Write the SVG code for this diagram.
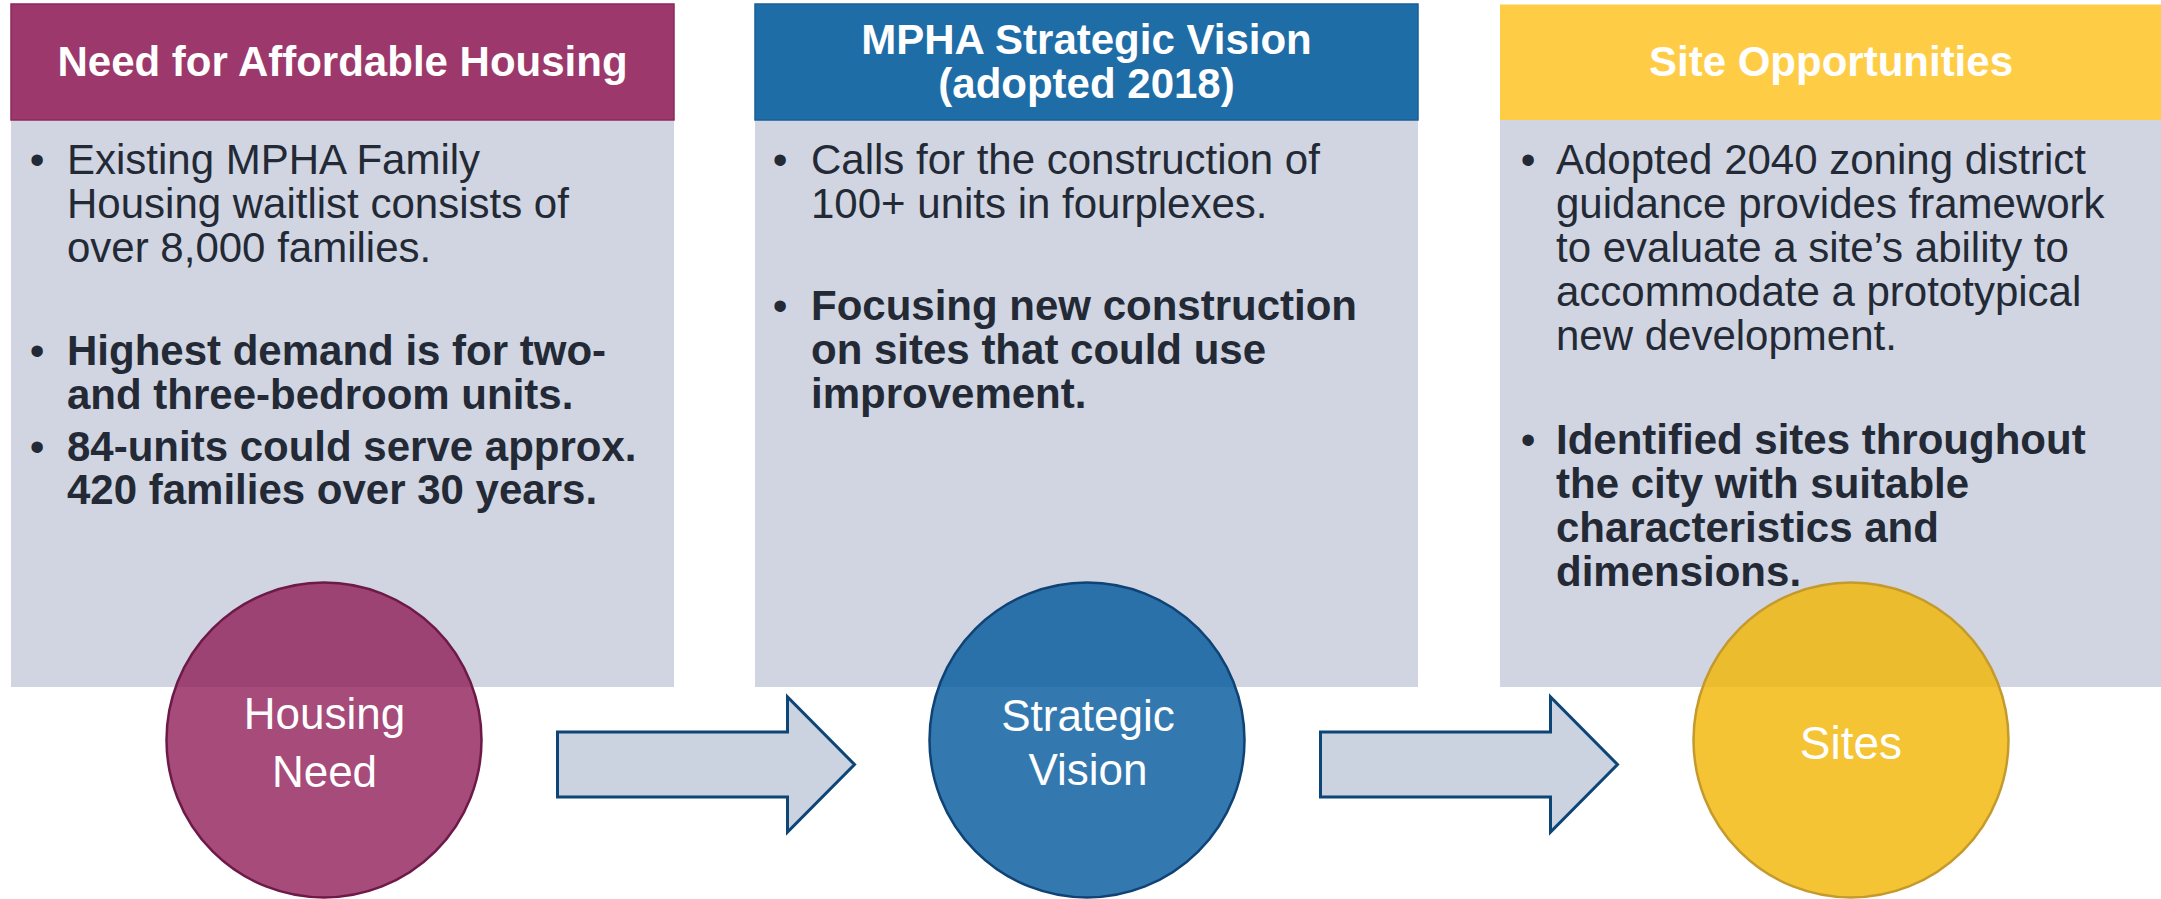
<svg xmlns="http://www.w3.org/2000/svg" width="2161" height="899" viewBox="0 0 2161 899">
  <style>
    .body { fill: #d0d5e1; }
    .head-text { font-family: "Liberation Sans", Arial, sans-serif; font-size: 42px; font-weight: bold; fill: #ffffff; text-anchor: middle; }
    .txt { font-family: "Liberation Sans", Arial, sans-serif; font-size: 42px; fill: #232a36; }
    .b { font-weight: bold; }
    .bullet { font-family: "Liberation Sans", Arial, sans-serif; font-size: 42px; fill: #232a36; text-anchor: middle; }
    .circle-text { font-family: "Liberation Sans", Arial, sans-serif; font-size: 44px; fill: #ffffff; text-anchor: middle; }
    .arrow { fill: #cbd2e0; stroke: #0e4577; stroke-width: 3; stroke-linejoin: miter; }
  </style>
  <defs>
    <polygon id="block-arrow" points="0,0 230,0 230,-35 297,32.5 230,100 230,65 0,65"/>
  </defs>

  <rect width="2161" height="899" fill="#ffffff"/>

  <!-- Column 1: need for affordable housing -->
  <g id="need-panel">
    <rect class="body" x="11" y="120" width="663" height="567"/>
    <rect x="11" y="4" width="663" height="116" fill="#9c386b" stroke="#8c2a5c" stroke-width="1.5"/>
    <text class="head-text" x="342.5" y="76">Need for Affordable Housing</text>
    <text class="bullet" x="37" y="173.5">•</text>
    <text class="txt" x="67" y="173.5">Existing MPHA Family</text>
    <text class="txt" x="67" y="217.5">Housing waitlist consists of</text>
    <text class="txt" x="67" y="261.5">over 8,000 families.</text>
    <text class="bullet" x="37" y="365">•</text>
    <text class="txt b" x="67" y="365">Highest demand is for two-</text>
    <text class="txt b" x="67" y="408.5">and three-bedroom units.</text>
    <text class="bullet" x="37" y="460.5">•</text>
    <text class="txt b" x="67" y="460.5">84-units could serve approx.</text>
    <text class="txt b" x="67" y="504">420 families over 30 years.</text>
  </g>

  <!-- Column 2: strategic vision -->
  <g id="vision-panel">
    <rect class="body" x="755" y="120" width="663" height="567"/>
    <rect x="755" y="4" width="663" height="116" fill="#1f6da7" stroke="#1a5f98" stroke-width="1.5"/>
    <text class="head-text" x="1086.5" y="53.5">MPHA Strategic Vision</text>
    <text class="head-text" x="1086.5" y="97.5">(adopted 2018)</text>
    <text class="bullet" x="780" y="173.5">•</text>
    <text class="txt" x="811" y="173.5">Calls for the construction of</text>
    <text class="txt" x="811" y="217.5">100+ units in fourplexes.</text>
    <text class="bullet" x="780" y="320">•</text>
    <text class="txt b" x="811" y="320">Focusing new construction</text>
    <text class="txt b" x="811" y="364">on sites that could use</text>
    <text class="txt b" x="811" y="408">improvement.</text>
  </g>

  <!-- Column 3: site opportunities -->
  <g id="sites-panel">
    <rect class="body" x="1500" y="120" width="661" height="567"/>
    <rect x="1500" y="4.5" width="661" height="115.5" fill="#ffcd45"/>
    <text class="head-text" x="1831" y="76">Site Opportunities</text>
    <text class="bullet" x="1528" y="173.5">•</text>
    <text class="txt" x="1556" y="173.5">Adopted 2040 zoning district</text>
    <text class="txt" x="1556" y="217.5">guidance provides framework</text>
    <text class="txt" x="1556" y="261.5">to evaluate a site’s ability to</text>
    <text class="txt" x="1556" y="305.5">accommodate a prototypical</text>
    <text class="txt" x="1556" y="349.5">new development.</text>
    <text class="bullet" x="1528" y="453.5">•</text>
    <text class="txt b" x="1556" y="453.5">Identified sites throughout</text>
    <text class="txt b" x="1556" y="497.5">the city with suitable</text>
    <text class="txt b" x="1556" y="541.5">characteristics and</text>
    <text class="txt b" x="1556" y="585.5">dimensions.</text>
  </g>

  <!-- Circles -->
  <g id="housing-need">
    <circle cx="324" cy="740" r="157.5" fill="#901e59" fill-opacity="0.8" stroke="#6e1a48" stroke-width="2.5"/>
    <text class="circle-text" x="324.5" y="729">Housing</text>
    <text class="circle-text" x="324.5" y="787">Need</text>
  </g>
  <g id="strategic-vision">
    <circle cx="1087" cy="740" r="157.5" fill="#00589b" fill-opacity="0.8" stroke="#0f4275" stroke-width="2.5"/>
    <text class="circle-text" x="1088" y="730.5">Strategic</text>
    <text class="circle-text" x="1088" y="785">Vision</text>
  </g>
  <g id="sites">
    <circle cx="1851" cy="740" r="157.5" fill="#f3b502" fill-opacity="0.8" stroke="#c49a2c" stroke-width="2.5"/>
    <text class="circle-text" x="1851" y="759" style="font-size:46px">Sites</text>
  </g>

  <!-- Connectors -->
  <g id="connectors">
    <use href="#block-arrow" class="arrow" x="557.5" y="732"/>
    <use href="#block-arrow" class="arrow" x="1320.5" y="732"/>
  </g>
</svg>
